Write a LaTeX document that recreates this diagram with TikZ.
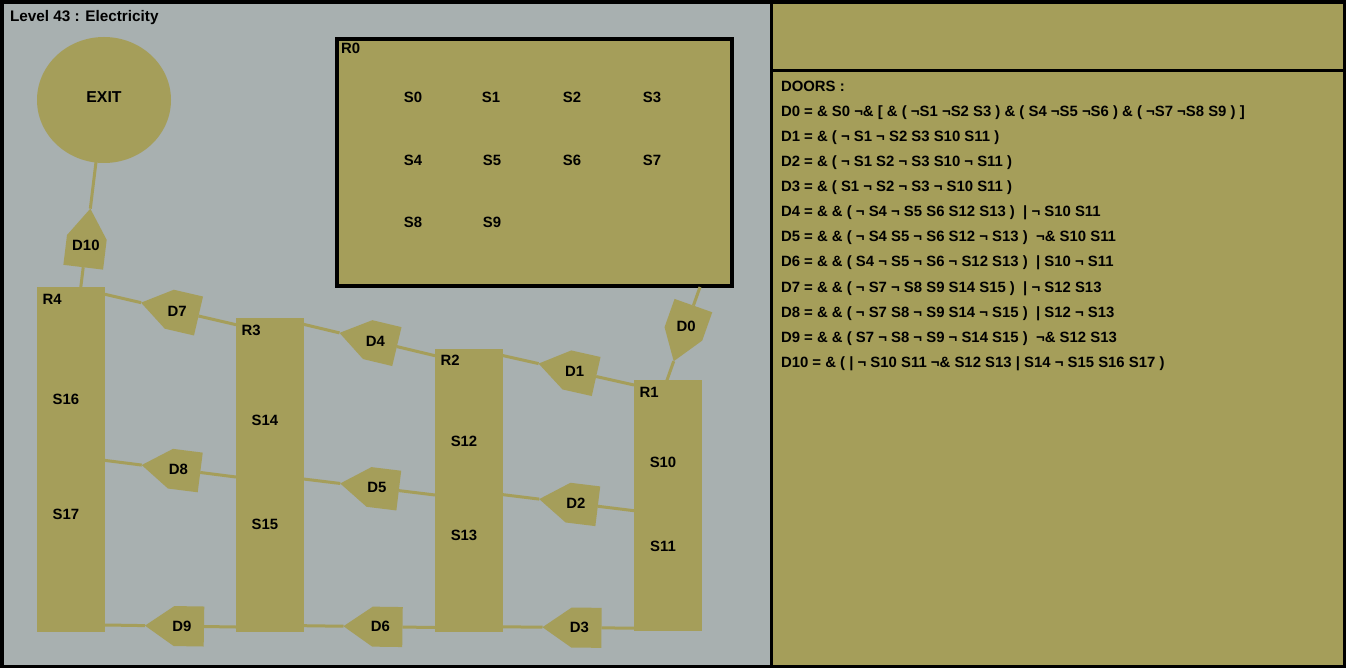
\documentclass[tikz,border=0pt]{standalone}
\usepackage{fontspec}
\setmainfont{Liberation Sans}
\usetikzlibrary{calc,shapes.geometric}
\definecolor{olv}{RGB}{165,158,90}
\definecolor{bgr}{RGB}{168,176,176}
\newcommand\ftx{\fontsize{14.9}{17}\selectfont\bfseries}
\newcommand\mkdoor[5]{%
  \pgfmathanglebetweenpoints{\pgfpointanchor{#2}{center}}{\pgfpointanchor{#3}{center}}%
  \edef\dang{\pgfmathresult}%
  \begin{scope}[shift={($(#2)!#4!(#3)$)}, rotate=\dang]
    \fill[olv] (0,0) -- (29,20) -- (59,20) -- (59,-20) -- (29,-20) -- cycle;
    \coordinate (#1tip) at (0,0);
    \coordinate (#1end) at (59,0);
    \node[txt] (#1) at (37,0) {#5};
  \end{scope}}
\begin{document}
\begin{tikzpicture}[x=1pt,y=-1pt,
  txt/.style={font=\ftx, text=black, inner sep=0pt, outer sep=0pt},
  lbl/.style={txt, anchor=base west},
  room/.style={fill=olv, draw=none, inner sep=0pt, outer sep=0pt, anchor=north west},
  wire/.style={draw=olv, line width=3pt},
  r0box/.style={draw=black, line width=3.5pt, fill=olv, inner sep=0pt, minimum width=395pt, minimum height=247pt},
  exitnode/.style={ellipse, fill=olv, inner sep=0pt, minimum width=134pt, minimum height=126pt}]
\useasboundingbox (0,0) rectangle (1346,668);
% frame and panels
\fill[black] (0,0) rectangle (1346,668);
\fill[bgr] (3.5,3.7) rectangle (770,665);
\fill[olv] (773,3.7) rectangle (1342.7,69);
\fill[olv] (773,72) rectangle (1342.7,665);
\node[lbl, font=\fontsize{15.3}{18}\selectfont\bfseries] (title) at (10,22) {Level 43 : Electricity};
% exit
\node[exitnode] (EXIT) at (104,100) {};
\node[txt, font=\fontsize{15.8}{18}\selectfont\bfseries] (EXITl) at (104,97) {EXIT};
% R0 switch box
\node[r0box] (R0) at (534.5,162.5) {};
\node[lbl] (R0l) at (341,53.5) {R0};
\node[txt] (S0) at (413,97) {S0};
\node[txt] (S1) at (491,97) {S1};
\node[txt] (S2) at (572,97) {S2};
\node[txt] (S3) at (652,97) {S3};
\node[txt] (S4) at (413,160) {S4};
\node[txt] (S5) at (492,160) {S5};
\node[txt] (S6) at (572,160) {S6};
\node[txt] (S7) at (652,160) {S7};
\node[txt] (S8) at (413,222) {S8};
\node[txt] (S9) at (492,222) {S9};
% rooms
\node[room, minimum width=68pt, minimum height=345pt] (R4) at (37,287) {};
\node[room, minimum width=67.5pt, minimum height=314pt] (R3) at (236,318) {};
\node[room, minimum width=67.5pt, minimum height=283pt] (R2) at (435,349) {};
\node[room, minimum width=68pt, minimum height=251pt] (R1) at (634,380) {};
% connection points
\coordinate (EXb) at (96,162);
\coordinate (R4t) at (80.7,288);
\coordinate (R0b) at (700,287);
\coordinate (R1t) at (666.7,381);
\coordinate (R4a) at (105,294.3);   \coordinate (R3a) at (236,324.7);
\coordinate (R3b) at (303.5,324.3); \coordinate (R2a) at (435,355.7);
\coordinate (R2b) at (502.5,355.5); \coordinate (R1a) at (634,385);
\coordinate (R4c) at (105,460.4);   \coordinate (R3c) at (236,477);
\coordinate (R3d) at (303.5,479);   \coordinate (R2c) at (435,495);
\coordinate (R2d) at (502.5,494.6); \coordinate (R1c) at (634,510.7);
\coordinate (R4e) at (105,625);     \coordinate (R3e) at (236,627);
\coordinate (R3f) at (303.5,625.7); \coordinate (R2e) at (435,627.5);
\coordinate (R2f) at (502.5,626.8); \coordinate (R1e) at (634,628.2);
% doors
\mkdoor{D10}{EXb}{R4t}{47pt}{D10}
\mkdoor{D0}{R1t}{R0b}{21pt}{D0}
\mkdoor{D7}{R4a}{R3a}{37pt}{D7}
\mkdoor{D4}{R3b}{R2a}{37pt}{D4}
\mkdoor{D1}{R2b}{R1a}{37pt}{D1}
\mkdoor{D8}{R4c}{R3c}{37pt}{D8}
\mkdoor{D5}{R3d}{R2c}{37pt}{D5}
\mkdoor{D2}{R2d}{R1c}{37pt}{D2}
\mkdoor{D9}{R4e}{R3e}{40pt}{D9}
\mkdoor{D6}{R3f}{R2e}{40pt}{D6}
\mkdoor{D3}{R2f}{R1e}{40pt}{D3}
% connectors
\draw[wire] (EXb) -- (D10tip); \draw[wire] (D10end) -- (R4t);
\draw[wire] (R1t) -- (D0tip);  \draw[wire] (D0end) -- (R0b);
\draw[wire] (R4a) -- (D7tip);  \draw[wire] (D7end) -- (R3a);
\draw[wire] (R3b) -- (D4tip);  \draw[wire] (D4end) -- (R2a);
\draw[wire] (R2b) -- (D1tip);  \draw[wire] (D1end) -- (R1a);
\draw[wire] (R4c) -- (D8tip);  \draw[wire] (D8end) -- (R3c);
\draw[wire] (R3d) -- (D5tip);  \draw[wire] (D5end) -- (R2c);
\draw[wire] (R2d) -- (D2tip);  \draw[wire] (D2end) -- (R1c);
\draw[wire] (R4e) -- (D9tip);  \draw[wire] (D9end) -- (R3e);
\draw[wire] (R3f) -- (D6tip);  \draw[wire] (D6end) -- (R2e);
\draw[wire] (R2f) -- (D3tip);  \draw[wire] (D3end) -- (R1e);
% room labels
\node[lbl] (R4l) at (42.5,304) {R4};
\node[lbl] (R3l) at (241.5,335) {R3};
\node[lbl] (R2l) at (440.5,365.5) {R2};
\node[lbl] (R1l) at (639.5,397) {R1};
\node[txt] (S16) at (66,399) {S16};
\node[txt] (S17) at (66,514) {S17};
\node[txt] (S14) at (265,420) {S14};
\node[txt] (S15) at (265,524) {S15};
\node[txt] (S12) at (464,441) {S12};
\node[txt] (S13) at (464,535) {S13};
\node[txt] (S10) at (663,462) {S10};
\node[txt] (S11) at (663,546) {S11};
% door list
\node[lbl] (hdr) at (781,92) {DOORS :};
\node[lbl] (L0) at (781,117) {D0 = \& S0 ¬\& [ \& ( ¬S1 ¬S2 S3 ) \& ( S4 ¬S5 ¬S6 ) \& ( ¬S7 ¬S8 S9 ) ]};
\node[lbl] (L1) at (781,142) {D1 = \& ( ¬ S1 ¬ S2 S3 S10 S11 )};
\node[lbl] (L2) at (781,167) {D2 = \& ( ¬ S1 S2 ¬ S3 S10 ¬ S11 )};
\node[lbl] (L3) at (781,192) {D3 = \& ( S1 ¬ S2 ¬ S3 ¬ S10 S11 )};
\node[lbl] (L4) at (781,217) {D4 = \& \& ( ¬ S4 ¬ S5 S6 S12 S13 )~~| ¬ S10 S11};
\node[lbl] (L5) at (781,242) {D5 = \& \& ( ¬ S4 S5 ¬ S6 S12 ¬ S13 )~~¬\& S10 S11};
\node[lbl] (L6) at (781,267) {D6 = \& \& ( S4 ¬ S5 ¬ S6 ¬ S12 S13 )~~| S10 ¬ S11};
\node[lbl] (L7) at (781,292) {D7 = \& \& ( ¬ S7 ¬ S8 S9 S14 S15 )~~| ¬ S12 S13};
\node[lbl] (L8) at (781,317) {D8 = \& \& ( ¬ S7 S8 ¬ S9 S14 ¬ S15 )~~| S12 ¬ S13};
\node[lbl] (L9) at (781,342) {D9 = \& \& ( S7 ¬ S8 ¬ S9 ¬ S14 S15 )~~¬\& S12 S13};
\node[lbl] (L10) at (781,367) {D10 = \& ( | ¬ S10 S11 ¬\& S12 S13 | S14 ¬ S15 S16 S17 )};
\end{tikzpicture}
\end{document}
